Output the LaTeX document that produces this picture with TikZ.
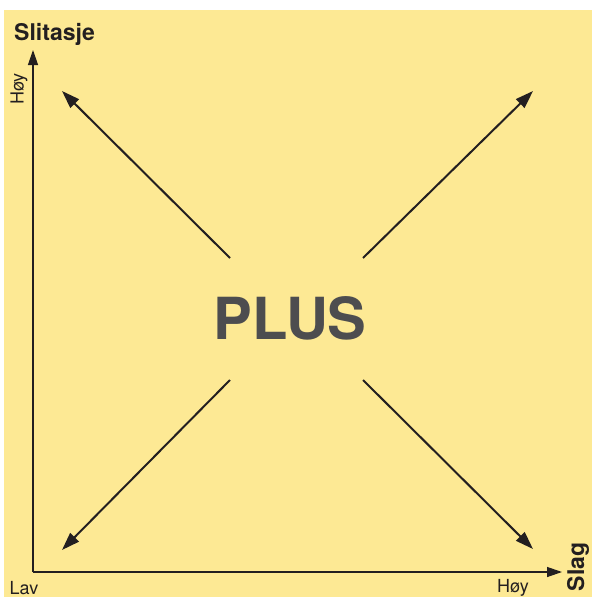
\documentclass[tikz,border=0pt]{standalone}
\usepackage{fontspec}
\setmainfont{TeX Gyre Heros}
\usetikzlibrary{arrows.meta}
\definecolor{bgyellow}{HTML}{FDE994}
\definecolor{plusgray}{HTML}{4D4D4F}
\definecolor{ink}{HTML}{231F20}
\tikzset{
  axis/.style={draw=ink, line width=1.3pt, -{Triangle[length=15pt,width=10pt]}},
  diag/.style={draw=ink, line width=2pt, -{Triangle[length=18pt,width=12pt]}},
  lbl/.style={font=\fontsize{18}{18}\selectfont, text=ink, inner sep=0pt},
  title/.style={font=\bfseries\fontsize{23}{23}\selectfont, text=ink, inner sep=0pt},
}
\begin{document}
\begin{tikzpicture}[x=1pt,y=-1pt]
\useasboundingbox (0,0) rectangle (592,597);
\fill[white] (0,0) rectangle (592,597);
\fill[bgyellow] (4,10) rectangle (592,597);
% axes
\coordinate (O) at (33,572);
\coordinate (ytip) at (33,50);
\coordinate (xtip) at (562,572);
\draw[axis] (O) -- (ytip);
\draw[axis] (O) -- (xtip);
% labels
\node[title, anchor=base west] (slit) at (14,40) {Slitasje};
\node[lbl, rotate=90] (hoyy) at (19,89) {Høy};
\node[lbl] (lav) at (24,588) {Lav};
\node[lbl] (hoyx) at (513,588) {Høy};
\node[title, rotate=90] (slag) at (578,567) {Slag};
% center
\node[font=\bfseries\fontsize{58}{58}\selectfont, text=plusgray, inner sep=0pt] (plus) at (290,318) {PLUS};
% diagonal arrows
\coordinate (nws) at (230,258);
\coordinate (nwt) at (62,91);
\coordinate (nes) at (363,258);
\coordinate (net) at (533,91);
\coordinate (sws) at (230,380);
\coordinate (swt) at (62,550);
\coordinate (ses) at (363,380);
\coordinate (set) at (533,549);
\draw[diag] (nws) -- (nwt);
\draw[diag] (nes) -- (net);
\draw[diag] (sws) -- (swt);
\draw[diag] (ses) -- (set);
\end{tikzpicture}
\end{document}
